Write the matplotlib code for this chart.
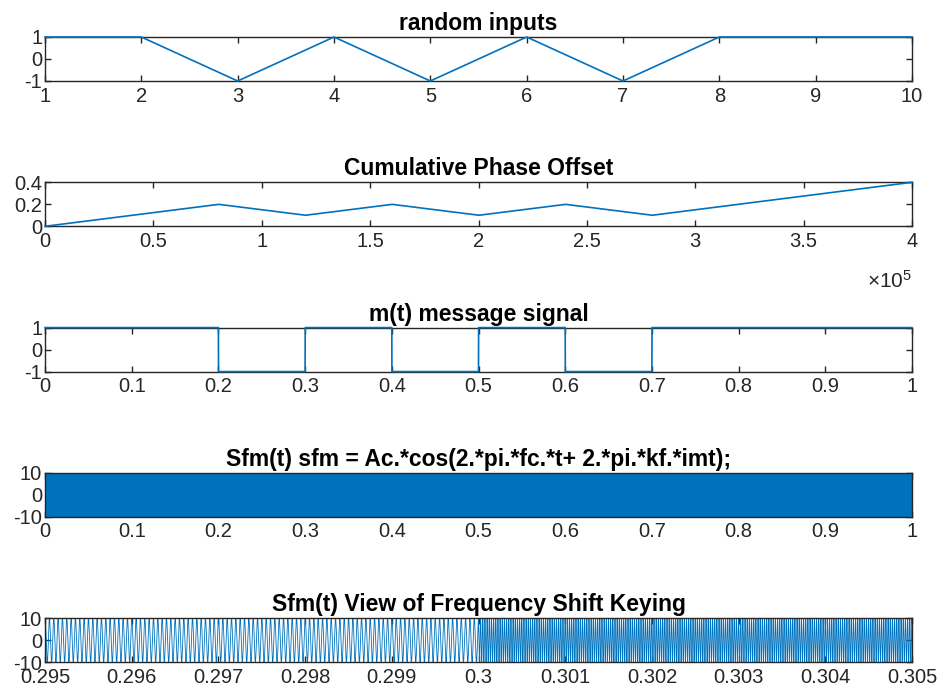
import numpy as np
import matplotlib
matplotlib.use('Agg')
import matplotlib.pyplot as plt

plt.rcParams['font.family'] = ['Liberation Sans', 'DejaVu Sans']
plt.rcParams['mathtext.fontset'] = 'custom'
plt.rcParams['mathtext.rm'] = 'Liberation Sans'

# random input bits
bits = [1, 1, -1, 1, -1, 1, -1, 1, 1, 1]
bit_idx = list(range(1, 11))

# signal parameters
Ac = 10
fc = 30000
kf = 10000
fs = 400000
Tb = 0.1

# tick labels
phase_ticks = [0, 0.5, 1, 1.5, 2, 2.5, 3, 3.5, 4]
t_ticks = [0, 0.1, 0.2, 0.3, 0.4, 0.5, 0.6, 0.7, 0.8, 0.9, 1]
zoom_ticks = [0.295, 0.296, 0.297, 0.298, 0.299, 0.3, 0.301, 0.302, 0.303, 0.304, 0.305]

N = int(fs * Tb * len(bits))
n = np.arange(N)
t = n / fs
m = np.repeat(bits, int(fs * Tb))
imt = np.cumsum(m) / fs
sfm = Ac * np.cos(2 * np.pi * fc * t + 2 * np.pi * kf * imt)

blue = '#0072BD'
dark = '#262626'
TFS = 16.5   # title size
LFS = 14.5   # tick label size

fig = plt.figure(figsize=(9.47, 6.94), dpi=100)
W, H = 947, 694
axes = []
for i in range(5):
    top = 37 + 145.3 * i
    ax = fig.add_axes([45 / W, 1 - (top + 44) / H, 867 / W, 44 / H])
    axes.append(ax)

def style(ax, title):
    ax.set_title(title, fontsize=TFS, fontweight='bold', color='black', pad=5)
    ax.tick_params(direction='in', top=True, right=True, length=4, width=1,
                   labelsize=LFS, colors=dark)
    ax.tick_params(axis='x', pad=4)
    ax.tick_params(axis='y', pad=2)
    for s in ax.spines.values():
        s.set_color(dark)
        s.set_linewidth(1)

ax = axes[0]
ax.plot(bit_idx, bits, color=blue, lw=1.2, zorder=3, clip_on=False)
ax.set_xlim(1, 10)
ax.set_ylim(-1, 1)
ax.set_xticks(bit_idx)
ax.set_xticklabels([str(v) for v in bit_idx])
ax.set_yticks([-1, 0, 1])
ax.set_yticklabels(['-1', '0', '1'])
style(ax, 'random inputs')

ax = axes[1]
ax.plot(n, imt, color=blue, lw=1.2, zorder=3, clip_on=False)
ax.set_xlim(0, N)
ax.set_ylim(0, 0.4)
ax.set_xticks([v * 1e5 for v in phase_ticks])
ax.set_xticklabels(['%g' % v for v in phase_ticks])
ax.set_yticks([0, 0.2, 0.4])
ax.set_yticklabels(['0', '0.2', '0.4'])
style(ax, 'Cumulative Phase Offset')
ax.text(1.0, -1.0, r'$\times\mathregular{10^5}$', transform=ax.transAxes,
        ha='right', va='top', fontsize=LFS + 0.5, color=dark)

ax = axes[2]
ax.plot(t, m, color=blue, lw=1.2, zorder=3, clip_on=False)
ax.set_xlim(0, 1)
ax.set_ylim(-1, 1)
ax.set_xticks(t_ticks)
ax.set_xticklabels(['%g' % v for v in t_ticks])
ax.set_yticks([-1, 0, 1])
ax.set_yticklabels(['-1', '0', '1'])
style(ax, 'm(t) message signal')

ax = axes[3]
ax.plot(t, sfm, color=blue, lw=0.8)
ax.set_xlim(0, 1)
ax.set_ylim(-10, 10)
ax.set_xticks(t_ticks)
ax.set_xticklabels(['%g' % v for v in t_ticks])
ax.set_yticks([-10, 0, 10])
ax.set_yticklabels(['-10', '0', '10'])
style(ax, 'Sfm(t) sfm = Ac.*cos(2.*pi.*fc.*t+ 2.*pi.*kf.*imt);')

ax = axes[4]
sel = (t >= 0.2949) & (t <= 0.3051)
ax.plot(t[sel], sfm[sel], color=blue, lw=0.6)
ax.set_xlim(0.295, 0.305)
ax.set_ylim(-10, 10)
ax.set_xticks(zoom_ticks)
ax.set_xticklabels(['%g' % v for v in zoom_ticks])
ax.set_yticks([-10, 0, 10])
ax.set_yticklabels(['-10', '0', '10'])
style(ax, 'Sfm(t) View of Frequency Shift Keying')

fig.savefig('out.png', dpi=100)
